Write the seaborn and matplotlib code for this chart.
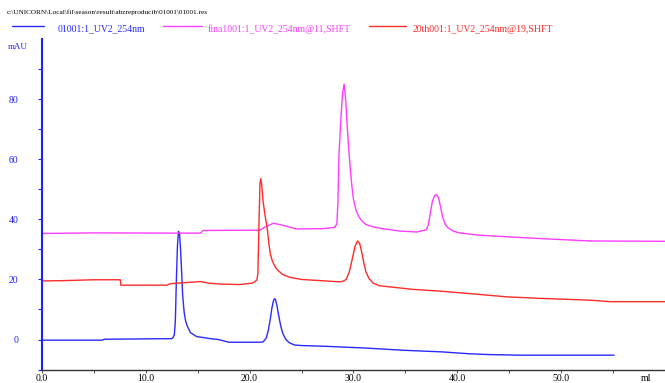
import pandas as pd
import seaborn as sns
import matplotlib.pyplot as plt
from matplotlib.lines import Line2D

# --- 数据：从图上读出的 (ml, mAU) 点 ---
blue_ml = [0, 5.8, 6.0, 12.5, 12.6, 12.75, 12.85, 12.95, 13.05, 13.15, 13.25, 13.35, 13.45, 13.55, 13.7,
           13.85, 14.0, 14.3, 14.9, 16.0, 17.0, 18.0,
           21.0, 21.3, 21.6, 21.8, 22.0, 22.15, 22.3, 22.4, 22.5, 22.65, 22.8, 23.0, 23.2, 23.5, 23.8,
           24.3, 25.0, 27.0, 31.0, 35.0, 38.5, 41.0, 43.0, 46.0, 55.1]
blue_mau = [-0.2, -0.2, 0.1, 0.3, 0.5, 1.5, 6, 20, 31, 36, 35.5, 30, 23, 15, 9,
            6, 4.5, 2.3, 1.0, 0.4, 0, -0.9,
            -0.9, -0.8, 0.5, 3, 7, 10.5, 13, 13.6, 13.2, 11, 8, 4.5, 2, 0, -1,
            -1.8, -2.0, -2.2, -2.8, -3.6, -4.1, -4.7, -5.0, -5.2, -5.2]

red_ml = [0, 2, 5, 7.55, 7.6, 12.0, 12.4, 15.3, 16.0, 17.0, 19.0, 20.3, 20.7, 20.8, 20.9, 21.0, 21.08,
          21.18, 21.3, 21.5, 21.7, 21.85, 22.0, 22.2, 22.5, 22.8, 23.2, 23.9, 25.0, 28.7, 29.0, 29.3,
          29.6, 29.9, 30.15, 30.4, 30.6, 30.8, 31.0, 31.2, 31.5, 31.9, 32.5,
          35.7, 38.4, 41.5, 44.8, 48.0, 52.8, 54.7, 60.0]
red_mau = [19.5, 19.6, 19.9, 19.9, 18.1, 18.1, 18.6, 19.3, 18.8, 18.5, 18.3, 18.8, 19.8, 22, 38, 52, 53.6,
           51, 46, 41, 37, 32, 28.5, 26, 24, 22.8, 21.6, 20.7, 20, 19.2, 19.4, 20,
           22.5, 27, 31, 32.8, 32, 29, 25.5, 22.5, 20.3, 18.8, 17.9,
           16.7, 16.1, 15.2, 14.2, 13.7, 13.1, 12.6, 12.6]

pink_ml = [0, 5, 15.3, 15.5, 21.0, 21.5, 22.3, 23.0, 24.5, 27.0, 28.2, 28.4, 28.5, 28.6, 28.8, 28.95, 29.1,
           29.25, 29.4, 29.55, 29.7, 29.85, 30.0, 30.25, 30.5, 30.8, 31.2, 32.0, 32.8, 34.5, 36.1,
           37.0, 37.2, 37.4, 37.6, 37.8, 38.0, 38.2, 38.4, 38.6, 38.85, 39.1, 39.6, 40.2, 42.2,
           48.0, 52.8, 60.0]
pink_mau = [35.3, 35.5, 35.4, 36.3, 36.4, 37.5, 38.7, 38.2, 36.8, 36.9, 37.3, 38.5, 45, 61, 74, 82, 85,
            80, 71, 63, 56.7, 51, 46.7, 43, 41, 39.5, 38.3, 37.4, 36.9, 36.1, 35.8,
            36.5, 38, 42, 46, 47.8, 48.3, 47, 44, 40.6, 38.3, 37.2, 36.1, 35.5, 34.7,
            33.6, 32.8, 32.7]

names = ['01001:1_UV2_254nm', 'fina1001:1_UV2_254nm@11,SHFT', '20th001:1_UV2_254nm@19,SHFT']
colors = ['#2a2aff', '#ff3cff', '#ff2a2a']

df = pd.concat([
    pd.DataFrame({'ml': blue_ml, 'mAU': blue_mau, 'curve': names[0]}),
    pd.DataFrame({'ml': pink_ml, 'mAU': pink_mau, 'curve': names[1]}),
    pd.DataFrame({'ml': red_ml, 'mAU': red_mau, 'curve': names[2]}),
])

sns.set_theme(style="white")
plt.rcParams['font.family'] = ['Liberation Serif', 'DejaVu Serif']

fig = plt.figure(figsize=(6.65, 3.83), dpi=100)
ax = fig.add_axes([0.063, 0.035, 0.937, 0.863])

sns.lineplot(data=df, x='ml', y='mAU', hue='curve', hue_order=names,
             palette=dict(zip(names, colors)), estimator=None, sort=False,
             linewidth=1.0, legend=False, ax=ax)

ax.set_xlim(0, 60)
ax.set_ylim(-10, 100)
ax.set_xlabel('')
ax.set_ylabel('')

# 坐标轴样式
for s in ['top', 'right']:
    ax.spines[s].set_visible(False)
ax.spines['left'].set_color('#2020ff')
ax.spines['left'].set_linewidth(1.5)
ax.spines['bottom'].set_color('#333333')
ax.spines['bottom'].set_linewidth(1.0)

ax.set_yticks([0, 20, 40, 60, 80])
ax.set_yticks([-10, 10, 30, 50, 70, 90], minor=True)
ax.set_xticks([0, 10, 20, 30, 40, 50])
ax.set_xticklabels(['0.0', '10.0', '20.0', '30.0', '40.0', '50.0'])
ax.set_xticks([5, 15, 25, 35, 45, 55], minor=True)
ax.tick_params(axis='y', which='both', left=True, direction='out', length=3, width=0.8,
               color='#2020ff', labelcolor='#2020ff', labelsize=7, pad=14)
ax.tick_params(axis='x', which='both', bottom=True, direction='out', length=2, width=0.6,
               color='#333333', labelcolor='black', labelsize=7, pad=1)

# 文字
fig.text(0.01, 0.968, r'c:\UNICORN\Local\fil\season\result\abzreproducib\01001\01001.res',
         fontsize=5.2, color='black', va='center', ha='left')
fig.text(0.012, 0.878, 'mAU', fontsize=6.5, color='#2020ff', va='center', ha='left')
fig.text(0.963, 0.013, 'ml', fontsize=7, color='black', va='center', ha='left')

# 手动图例
leg = [(12, 44, 58), (163, 202, 208), (369, 406, 413)]
for (x0, x1, xt), nm, c in zip(leg, names, colors):
    fig.add_artist(Line2D([x0 / 665, x1 / 665], [1 - 26 / 383, 1 - 26 / 383], color=c, lw=1.0))
    fig.text(xt / 665, 1 - 29 / 383, nm, fontsize=7, color=c, va='center', ha='left')

plt.savefig('out.png', dpi=100)
